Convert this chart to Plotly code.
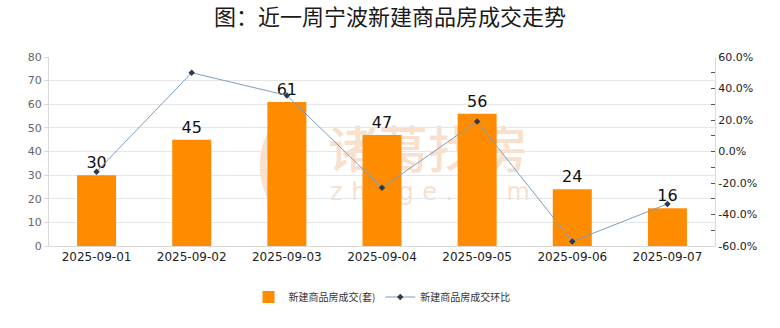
import base64
import plotly.graph_objects as go

dates = ["2025-09-01", "2025-09-02", "2025-09-03", "2025-09-04", "2025-09-05", "2025-09-06", "2025-09-07"]
deals = [30, 45, 61, 47, 56, 24, 16]
mom_pct = [-12.8, 50.0, 35.6, -23.0, 19.1, -57.1, -33.3]
right_ticks = [-60, -40, -20, 0, 20, 40, 60]
right_labels = ["-60.0%", "-40.0%", "-20.0%", "0.0%", "20.0%", "40.0%", "60.0%"]

cjk = "Noto Sans CJK SC"
num = "DejaVu Sans"

# watermark logo (an image in the original chart)
wm_svg = (
    '<svg xmlns="http://www.w3.org/2000/svg" width="290" height="90" viewBox="0 0 290 90">'
    '<g fill="none" stroke="#f9e0cd" stroke-width="7" stroke-linecap="round">'
    '<path d="M24 8 Q2 45 24 84"/><path d="M36 8 Q58 45 36 84"/>'
    '<path d="M30 20 L30 75" stroke-width="4"/></g>'
    '<text x="78" y="48" font-family="Noto Sans CJK SC" font-size="50" font-weight="500" '
    'fill="#f9e0cd" textLength="200" lengthAdjust="spacingAndGlyphs">诸葛找房</text>'
    '<text x="80" y="80" font-family="DejaVu Sans" font-size="24" fill="#f9e0cd" '
    'textLength="200" lengthAdjust="spacing">zhuge.com</text>'
    '</svg>'
)
wm_src = "data:image/svg+xml;base64," + base64.b64encode(wm_svg.encode("utf-8")).decode("ascii")

fig = go.Figure()
fig.add_trace(go.Bar(
    x=dates, y=deals, name="新建商品房成交(套)",
    marker=dict(color="#FF8C00", line=dict(width=0)),
    width=0.41,
    text=[str(v) for v in deals], textposition="outside",
    textfont=dict(family=num, size=16, color="#111111"),
    cliponaxis=False,
))
fig.add_trace(go.Scatter(
    x=dates, y=mom_pct, name="新建商品房成交环比", yaxis="y2",
    mode="lines+markers",
    line=dict(color="#7a9ec4", width=1),
    marker=dict(symbol="diamond", size=5, color="#2b3a4f"),
))

fig.update_layout(
    width=780, height=328,
    margin=dict(l=49, r=65, t=57, b=82),
    paper_bgcolor="white", plot_bgcolor="white",
    title=dict(text="图：近一周宁波新建商品房成交走势", x=0.5, xanchor="center",
               y=0.948, yanchor="middle", yref="container",
               font=dict(family=cjk, size=22, color="#1a1a1a")),
    showlegend=True,
    legend=dict(orientation="h", x=0.5, xanchor="center", y=-0.27, yanchor="middle",
                font=dict(family=cjk, size=10, color="#333333"),
                traceorder="normal"),
    bargap=0.59,
    xaxis=dict(type="category", showgrid=False, showline=True, linecolor="#d9d9d9",
               ticks="", tickfont=dict(family=num, size=12, color="#222222")),
    yaxis=dict(range=[0, 80], dtick=10, showgrid=True, gridcolor="#e6e6e6",
               showline=True, linecolor="#d9d9d9", ticks="outside", ticklen=4,
               tickcolor="#d9d9d9", zeroline=False,
               tickfont=dict(family=num, size=11, color="#666666")),
    yaxis2=dict(overlaying="y", side="right", range=[-60, 60],
                tickvals=right_ticks, ticktext=right_labels,
                showgrid=False, zeroline=False, showline=True, linecolor="#d9d9d9",
                ticks="inside", ticklen=4, tickcolor="#555555",
                minor=dict(dtick=10, ticks="inside", ticklen=4, tickcolor="#555555"),
                tickfont=dict(family=num, size=11, color="#222222")),
    images=[dict(source=wm_src, xref="paper", yref="paper", x=0.302, y=0.667,
                 sizex=0.435, sizey=0.476, xanchor="left", yanchor="top",
                 sizing="stretch", layer="below", opacity=1)],
)

fig.write_html("out.html")
